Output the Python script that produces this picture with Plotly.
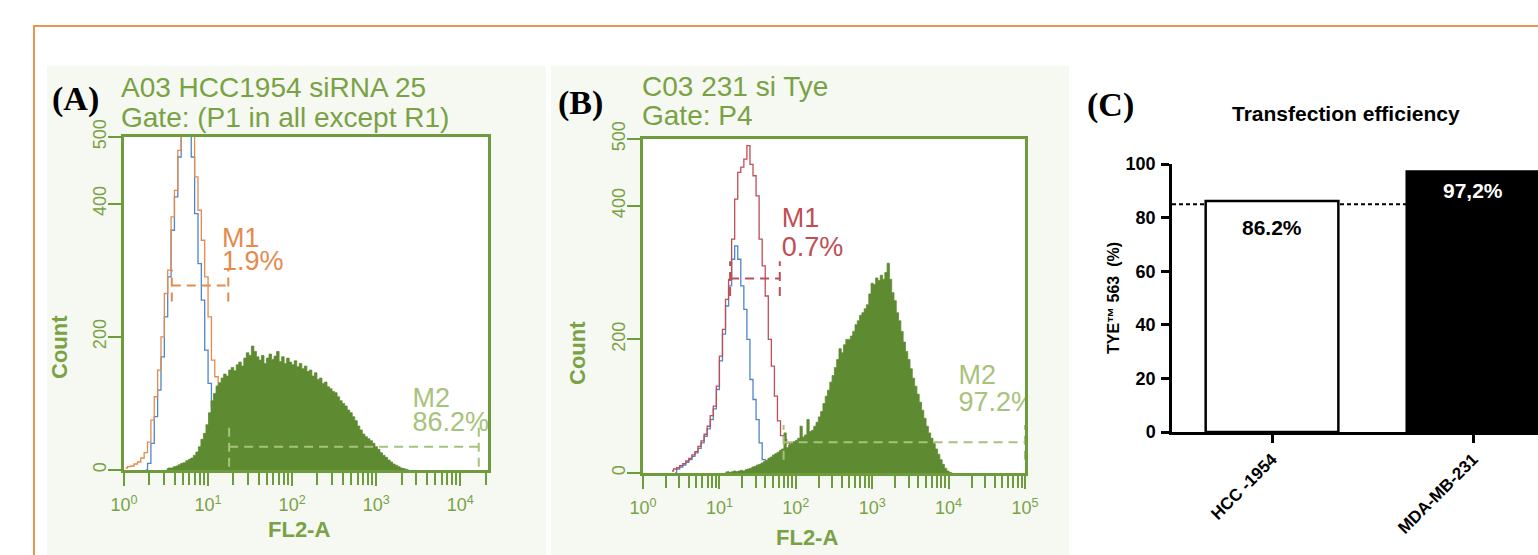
import numpy as np
import plotly.graph_objects as go

W, H = 1538, 555

# ---------------- DATA ----------------
# Panel A (HCC1954 siRNA 25): counts per log10(FL2-A) channel
A_GREEN_LOG0, A_GREEN_STEP = 0.51, 0.03
A_GREEN = [2, 3, 3, 5, 6, 8, 10, 11, 14, 16, 18, 22, 27, 35, 46, 55, 68, 86, 104, 115,
           126, 131, 138, 144, 141, 150, 154, 149, 158, 162, 156, 168, 176, 172, 186, 178,
           170, 165, 172, 160, 168, 174, 166, 171, 178, 163, 170, 160, 168, 162, 158, 164,
           155, 160, 152, 156, 148, 150, 141, 146, 136, 138, 130, 132, 125, 122, 118, 116,
           110, 104, 100, 96, 90, 86, 80, 74, 66, 60, 54, 50, 47, 44, 40, 35, 31, 26, 22,
           19, 15, 12, 9, 7, 5, 3, 2, 1, 0]
A_ORANGE_LOG0, A_ORANGE_STEP = 0.02, 0.04
A_ORANGE = [3, 5, 6, 9, 12, 18, 26, 42, 75, 110, 150, 200, 265, 300, 380, 420, 480, 560,
            620, 640, 560, 440, 390, 345, 290, 230, 165, 140, 100, 60, 30, 12, 5, 0]
A_BLUE_LOG0, A_BLUE_STEP = 0.26, 0.04
A_BLUE = [0, 10, 40, 80, 120, 170, 230, 290, 360, 410, 470, 580, 640, 610, 470, 385, 310,
          255, 180, 130, 95, 60, 30, 10, 0]

# Panel B (231 si Tye)
B_GREEN_LOG0, B_GREEN_STEP = 1.08, 0.03
B_GREEN = [1, 2, 1, 2, 3, 2, 3, 4, 3, 5, 6, 7, 9, 10, 12, 13, 15, 17, 19, 22, 24, 27, 29,
           31, 34, 36, 60, 38, 42, 45, 47, 49, 52, 70, 54, 57, 80, 62, 64, 70, 76, 84, 92,
           104, 115, 124, 136, 146, 158, 170, 186, 180, 192, 200, 200, 205, 212, 222, 228,
           236, 240, 246, 252, 268, 284, 282, 292, 288, 296, 290, 300, 314, 290, 270, 258,
           240, 228, 212, 196, 182, 170, 156, 142, 130, 118, 106, 94, 82, 70, 60, 52, 44,
           36, 28, 20, 13, 7, 3, 1, 0]
B_RED_LOG0, B_RED_STEP = 0.38, 0.04
B_RED = [3, 6, 8, 11, 14, 18, 22, 27, 32, 40, 48, 58, 70, 86, 100, 130, 175, 215, 260, 290,
         350, 410, 450, 458, 470, 490, 462, 445, 415, 350, 310, 265, 200, 160, 115, 78, 56,
         50, 45, 40, 30, 10, 0]
B_BLUE_LOG0, B_BLUE_STEP = 0.42, 0.04
B_BLUE = [0, 6, 9, 12, 16, 20, 25, 30, 37, 45, 55, 66, 80, 96, 125, 168, 208, 250, 280, 320,
          340, 320, 280, 245, 200, 140, 110, 80, 45, 20, 0]

# Marker gates (FL2-A range, level in counts, half tick height) and percentages
A_M1_RANGE, A_M1_LEVEL, A_M1_TICK, A_M1_PCT = (3.7, 17.4), 277, 24, "1.9%"
A_M2_RANGE, A_M2_LEVEL, A_M2_TICK, A_M2_PCT = (17.8, 16600), 35, 30, "86.2%"
B_M1_RANGE, B_M1_LEVEL, B_M1_TICK, B_M1_PCT = (13.8, 61.7), 291, 26, "0.7%"
B_M2_RANGE, B_M2_LEVEL, B_M2_TICK, B_M2_PCT = (69.2, 100000), 46, 26, "97.2%"

# Panel C
C_CATEGORIES = ["HCC -1954", "MDA-MB-231"]
C_VALUES = [86.2, 97.2]
C_LABELS = ["86.2%", "97,2%"]
C_THRESHOLD = 85

# ---------------- STYLE ----------------
BOX = '#6E9B3B'
TXT = '#79A245'
FILL = '#5E8A31'
ORANGE = '#E38B4E'
BLUE = '#4F86C9'
RED = '#BF4E55'
M2C = '#A7C27B'
PANEL_BG = '#F6F8F2'
SANS = 'Liberation Sans, Arial, sans-serif'
SERIF = 'Liberation Serif, Times New Roman, serif'


def px(x):
    return x / W


def py(y):
    return 1 - y / H


def log_bins(start, step, counts):
    return 10 ** (start + step * np.arange(len(counts)))


fig = go.Figure()


def hist_line(start, step, counts, color, xa, ya, width=1.3):
    fig.add_trace(go.Scatter(x=log_bins(start, step, counts), y=counts, mode='lines',
                             line=dict(color=color, width=width, shape='hvh'),
                             xaxis=xa, yaxis=ya, hoverinfo='skip', showlegend=False))


def hist_fill(start, step, counts, xa, ya):
    fig.add_trace(go.Scatter(x=log_bins(start, step, counts), y=counts, mode='lines',
                             line=dict(color=FILL, width=0.8, shape='hvh'),
                             fill='tozeroy', fillcolor=FILL,
                             xaxis=xa, yaxis=ya, hoverinfo='skip', showlegend=False))


def gate(rng, level, tick, color, xa, ya):
    lo, hi = rng
    fig.add_trace(go.Scatter(x=[lo, hi, None, lo, lo, None, hi, hi],
                             y=[level, level, None, level - tick, level + tick, None,
                                level - tick, level + tick],
                             mode='lines', line=dict(color=color, width=2, dash='9px,6px'),
                             xaxis=xa, yaxis=ya, hoverinfo='skip', showlegend=False))


def label(x, y, text, color, xa, ya, size=27):
    fig.add_trace(go.Scatter(x=[x], y=[y], mode='text', text=[text],
                             textposition='middle right',
                             textfont=dict(family=SANS, size=size, color=color),
                             cliponaxis=True, xaxis=xa, yaxis=ya,
                             hoverinfo='skip', showlegend=False))


# Panel A traces
hist_line(A_BLUE_LOG0, A_BLUE_STEP, A_BLUE, BLUE, 'x', 'y')
hist_line(A_ORANGE_LOG0, A_ORANGE_STEP, A_ORANGE, ORANGE, 'x', 'y')
hist_fill(A_GREEN_LOG0, A_GREEN_STEP, A_GREEN, 'x', 'y')
gate(A_M1_RANGE, A_M1_LEVEL, A_M1_TICK, ORANGE, 'x', 'y')
gate(A_M2_RANGE, A_M2_LEVEL, A_M2_TICK, M2C, 'x', 'y')
label(14.6, 345, "M1", ORANGE, 'x', 'y')
label(14.6, 310, A_M1_PCT, ORANGE, 'x', 'y')
label(2700, 104, "M2", M2C, 'x', 'y')
label(2700, 69, A_M2_PCT, M2C, 'x', 'y')

# Panel B traces
hist_line(B_BLUE_LOG0, B_BLUE_STEP, B_BLUE, BLUE, 'x2', 'y2')
hist_line(B_RED_LOG0, B_RED_STEP, B_RED, RED, 'x2', 'y2')
hist_fill(B_GREEN_LOG0, B_GREEN_STEP, B_GREEN, 'x2', 'y2')
gate(B_M1_RANGE, B_M1_LEVEL, B_M1_TICK, RED, 'x2', 'y2')
gate(B_M2_RANGE, B_M2_LEVEL, B_M2_TICK, M2C, 'x2', 'y2')
label(65.3, 378, "M1", RED, 'x2', 'y2')
label(65.3, 335, B_M1_PCT, RED, 'x2', 'y2')
label(13490, 143, "M2", M2C, 'x2', 'y2')
label(13490, 103, B_M2_PCT, M2C, 'x2', 'y2')

# Panel C bars
fig.add_trace(go.Bar(x=list(range(len(C_VALUES))), y=C_VALUES, width=0.66,
                     marker=dict(color=['white', 'black'], line=dict(color='black', width=2.5)),
                     xaxis='x3', yaxis='y3', hoverinfo='skip', showlegend=False))

major = [1, 10, 100, 1000, 10000, 100000]
major_txt = ['10<sup>%d</sup>' % i for i in range(6)]
minor_vals = [m * 10 ** k for k in range(5) for m in range(2, 10)]


def flow_xaxis(domain, rmax, anchor):
    return dict(domain=domain, type='log', range=[0, rmax], anchor=anchor,
                showline=True, linecolor=BOX, linewidth=2.5, mirror=True,
                ticks='outside', ticklen=13, tickwidth=2, tickcolor=BOX,
                tickmode='array', tickvals=major, ticktext=major_txt,
                tickfont=dict(family=SANS, size=18, color=TXT), ticklabelstandoff=4,
                minor=dict(tickmode='array', tickvals=minor_vals, ticks='outside',
                           ticklen=12, tickwidth=2, tickcolor=BOX, showgrid=False),
                showgrid=False, zeroline=False, fixedrange=True, automargin=False)


def flow_yaxis(domain, anchor):
    return dict(domain=domain, range=[0, 500], anchor=anchor,
                showline=True, linecolor=BOX, linewidth=2.5, mirror=True,
                ticks='outside', ticklen=13, tickwidth=2, tickcolor=BOX,
                tickmode='array', tickvals=[0, 200, 400, 500], tickangle=-90,
                tickfont=dict(family=SANS, size=18, color=TXT), ticklabelstandoff=-5,
                showgrid=False, zeroline=False, fixedrange=True, automargin=False)


fig.update_layout(
    width=W, height=H, autosize=False,
    margin=dict(l=0, r=0, t=0, b=0, pad=0, autoexpand=False),
    paper_bgcolor='white', plot_bgcolor='white', showlegend=False,
    xaxis=flow_xaxis([px(124), px(488)], 4.33, 'y'),
    yaxis=flow_yaxis([py(470), py(137)], 'x'),
    xaxis2=flow_xaxis([px(643), px(1025)], 5, 'y2'),
    yaxis2=flow_yaxis([py(473), py(139)], 'x2'),
    xaxis3=dict(domain=[px(1172), 1.0], range=[-0.4975, 1.323], anchor='y3',
                showline=True, linecolor='black', linewidth=2.5,
                ticks='outside', ticklen=8, tickwidth=2.5, tickcolor='black',
                tickmode='array', tickvals=list(range(len(C_CATEGORIES))),
                ticktext=C_CATEGORIES, tickangle=-45,
                tickfont=dict(family=SANS, size=17, color='black', weight='bold'),
                showgrid=False, zeroline=False, fixedrange=True, automargin=False),
    yaxis3=dict(domain=[py(432), py(164)], range=[0, 100], anchor='x3',
                showline=True, linecolor='black', linewidth=2.5,
                ticks='outside', ticklen=8, tickwidth=2.5, tickcolor='black',
                tickmode='array', tickvals=[0, 20, 40, 60, 80, 100],
                tickfont=dict(family=SANS, size=18, color='black', weight='bold'),
                ticklabelstandoff=2,
                showgrid=False, zeroline=False, fixedrange=True, automargin=False),
)

shapes = [
    # panel backgrounds
    dict(type='rect', xref='paper', yref='paper', x0=px(47), x1=px(546), y0=-0.02, y1=py(66),
         fillcolor=PANEL_BG, line=dict(width=0), layer='below'),
    dict(type='rect', xref='paper', yref='paper', x0=px(551), x1=px(1069), y0=-0.02, y1=py(66),
         fillcolor=PANEL_BG, line=dict(width=0), layer='below'),
    # white plot areas
    dict(type='rect', xref='x domain', yref='y domain', x0=0, x1=1, y0=0, y1=1,
         fillcolor='white', line=dict(width=0), layer='below'),
    dict(type='rect', xref='x2 domain', yref='y2 domain', x0=0, x1=1, y0=0, y1=1,
         fillcolor='white', line=dict(width=0), layer='below'),
    # threshold dotted line in C
    dict(type='line', xref='x3 domain', yref='y3', x0=0, x1=1, y0=C_THRESHOLD, y1=C_THRESHOLD,
         line=dict(color='black', width=2, dash='4px,3px'), layer='below'),
    # orange frame
    dict(type='rect', xref='paper', yref='paper', x0=px(34), x1=1.05, y0=-0.05, y1=py(26),
         fillcolor='rgba(0,0,0,0)', line=dict(color='#E9964E', width=2), layer='above'),
]
fig.update_layout(shapes=shapes)

ann = []


def note(x, y, text, size, color, family=SANS, xanchor='center', angle=0, weight='normal'):
    ann.append(dict(xref='paper', yref='paper', x=px(x), y=py(y), text=text, showarrow=False,
                    xanchor=xanchor, yanchor='middle', textangle=angle,
                    font=dict(family=family, size=size, color=color, weight=weight)))


# Panel A/B headers
note(75, 99, '(A)', 34, 'black', SERIF, weight='bold')
note(580, 103, '(B)', 34, 'black', SERIF, weight='bold')
note(1110, 105, '(C)', 34, 'black', SERIF, weight='bold')
note(119, 88, 'A03 HCC1954 siRNA 25', 28, TXT, xanchor='left')
note(119, 117, 'Gate: (P1 in all except R1)', 28, TXT, xanchor='left')
note(640, 87, 'C03 231 si Tye', 28, TXT, xanchor='left')
note(640, 116, 'Gate: P4', 28, TXT, xanchor='left')
note(59, 347, 'Count', 22, TXT, angle=-90, weight='bold')
note(577, 353, 'Count', 22, TXT, angle=-90, weight='bold')
note(299, 529, 'FL2-A', 22, TXT, weight='bold')
note(807, 537, 'FL2-A', 22, TXT, weight='bold')
# Panel C texts
note(1346, 113, 'Transfection efficiency', 21, 'black', weight='bold')
note(1113, 298, 'TYE\u2122 563\u00a0\u00a0(%)', 16, 'black', angle=-90, weight='bold')

label_shift = [-27, -19]
label_color = ['black', 'white']
for i, (v, t) in enumerate(zip(C_VALUES, C_LABELS)):
    ann.append(dict(xref='x3', yref='y3', x=i, y=v, text=t, showarrow=False,
                    yanchor='middle', yshift=label_shift[i],
                    font=dict(family=SANS, size=21, color=label_color[i], weight='bold')))

fig.update_layout(annotations=ann)
fig.write_html("out.html", config={'displayModeBar': False},
               post_script="document.body.style.margin='0';document.body.style.padding='0';"
                           "document.body.style.overflow='hidden';")
